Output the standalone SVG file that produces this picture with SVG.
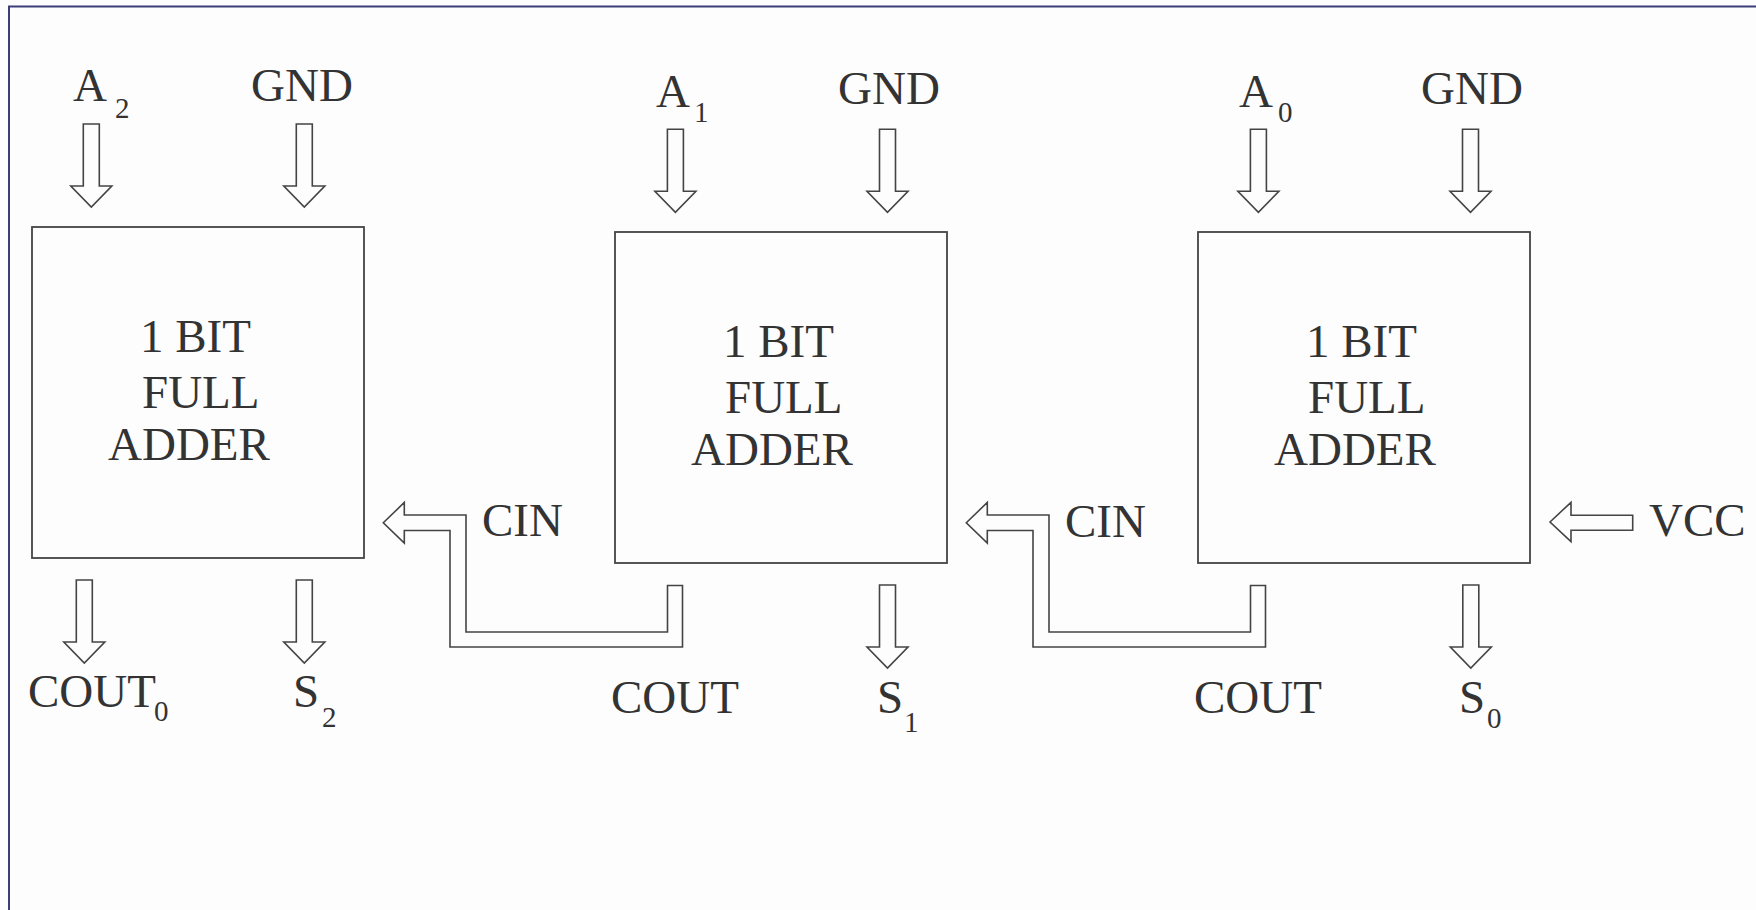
<svg xmlns="http://www.w3.org/2000/svg" xmlns:xlink="http://www.w3.org/1999/xlink" width="1756" height="910" viewBox="0 0 1756 910">
<style>
.t{font-family:"Liberation Serif","Times New Roman",serif;font-size:47px;fill:#333333}
.s{font-family:"Liberation Serif","Times New Roman",serif;font-size:29px;fill:#333333}
.box{fill:#fdfdfd;stroke:#444444;stroke-width:1.8}
.arr{fill:#fdfdfd;stroke:#444444;stroke-width:1.6;stroke-linejoin:miter}
.frame{stroke:#3d3d7a;stroke-width:2;fill:none}
</style>
<defs>
<path id="darr" d="M-8,0 H8 V62 H20.5 L0,83 L-20.5,62 H-8 Z"/>
</defs>
<rect x="0" y="0" width="1756" height="910" fill="#fdfdfd"/>
<path class="frame" d="M9,910 V6.5 H1756"/>

<g id="adder2">
<rect class="box" x="32" y="227" width="332" height="331"/>
<text class="t" x="140" y="352">1 BIT</text>
<text class="t" x="142" y="408">FULL</text>
<text class="t" x="108" y="460">ADDER</text>
</g>
<g id="adder1">
<rect class="box" x="615" y="232" width="332" height="331"/>
<text class="t" x="723" y="357">1 BIT</text>
<text class="t" x="725" y="413">FULL</text>
<text class="t" x="691" y="465">ADDER</text>
</g>
<g id="adder0">
<rect class="box" x="1198" y="232" width="332" height="331"/>
<text class="t" x="1306" y="357">1 BIT</text>
<text class="t" x="1308" y="413">FULL</text>
<text class="t" x="1274" y="465">ADDER</text>
</g>

<g id="labels">
<text class="t" x="73" y="101">A</text><text class="s" x="115" y="118">2</text>
<text class="t" x="251" y="101">GND</text>
<text class="t" x="28" y="707">COUT</text><text class="s" x="154" y="721">0</text>
<text class="t" x="293" y="707">S</text><text class="s" x="322" y="727">2</text>
<text class="t" x="482" y="536">CIN</text>

<text class="t" x="656" y="106.7">A</text><text class="s" x="694" y="121.7">1</text>
<text class="t" x="838" y="104">GND</text>
<text class="t" x="611" y="712.7">COUT</text>
<text class="t" x="877" y="712.7">S</text><text class="s" x="904" y="732.3">1</text>
<text class="t" x="1065" y="537">CIN</text>

<text class="t" x="1239" y="106.7">A</text><text class="s" x="1278" y="122">0</text>
<text class="t" x="1421" y="104">GND</text>
<text class="t" x="1194" y="712.7">COUT</text>
<text class="t" x="1459" y="712.7">S</text><text class="s" x="1487" y="727.7">0</text>
<text class="t" x="1649" y="536">VCC</text>
</g>

<g id="connectors">
<use class="arr" xlink:href="#darr" href="#darr" transform="translate(91.3,124)"/>
<use class="arr" xlink:href="#darr" href="#darr" transform="translate(304.3,124)"/>
<use class="arr" xlink:href="#darr" href="#darr" transform="translate(84.3,580)"/>
<use class="arr" xlink:href="#darr" href="#darr" transform="translate(304.3,580)"/>

<use class="arr" xlink:href="#darr" href="#darr" transform="translate(675.4,129.3)"/>
<use class="arr" xlink:href="#darr" href="#darr" transform="translate(887.5,129.3)"/>
<use class="arr" xlink:href="#darr" href="#darr" transform="translate(887.5,585)"/>

<use class="arr" xlink:href="#darr" href="#darr" transform="translate(1258.4,129.3)"/>
<use class="arr" xlink:href="#darr" href="#darr" transform="translate(1470.5,129.3)"/>
<use class="arr" xlink:href="#darr" href="#darr" transform="translate(1470.8,585)"/>

<path class="arr" d="M383.3,522.75 L404.3,502.5 V515 H466 V632 H667.5 V585.5 H682.5 V647 H450 V530.5 H404.3 V543 Z"/>
<path class="arr" d="M966.3,522.75 L987.3,502.5 V515 H1049 V632 H1250.5 V585.5 H1265.5 V647 H1033 V530.5 H987.3 V543 Z"/>
<path class="arr" d="M1550,522 L1571,502.3 V515.3 H1632.7 V530.3 H1571 V541.7 Z"/>
</g>
</svg>
